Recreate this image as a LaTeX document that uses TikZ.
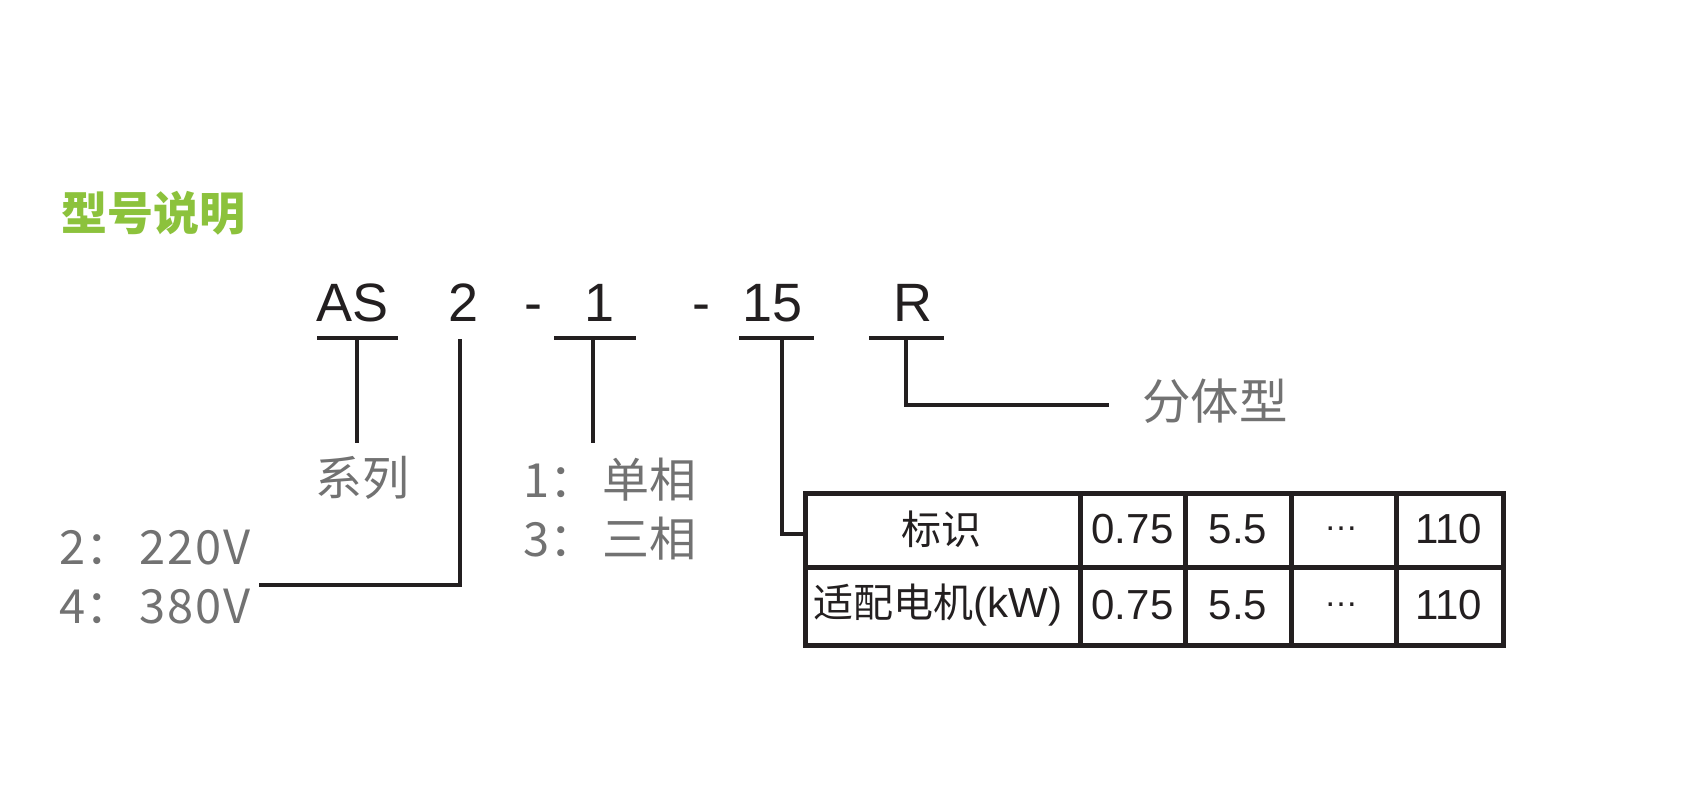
\documentclass[tikz,border=0pt]{standalone}
\usepackage{fontspec}
\setmainfont{Liberation Sans}
\newfontfamily\cjk{Noto Sans CJK SC}
\definecolor{ink}{HTML}{231F20}
\definecolor{lbl}{HTML}{727272}
\definecolor{ttl}{HTML}{8CC23C}
\newcommand{\widedigits}[1]{{\addfontfeature{LetterSpace=4}#1}}
\begin{document}
\begin{tikzpicture}[x=1pt,y=-1pt,
  code/.style={font=\fontsize{54}{60}\selectfont, text=ink, inner sep=0pt, anchor=base},
  lbltext/.style={font=\cjk\fontsize{47}{56}\selectfont, text=lbl, inner sep=0pt, anchor=west},
  wire/.style={draw=ink, line width=3.3pt},
  gridline/.style={draw=ink, line width=5pt},
  cellnum/.style={font=\fontsize{42}{48}\selectfont, text=ink, inner sep=0pt},
  cellcjk/.style={font=\cjk\fontsize{40}{48}\selectfont, text=ink, inner sep=0pt}]
\useasboundingbox[fill=white] (0,0) rectangle (1694,789);

% title
\node[font=\cjk\bfseries\fontsize{46}{54}\selectfont, text=ttl, anchor=west, inner sep=0pt] (title) at (61,213) {型号说明};

% code letters
\node[code] (cAS) at (352.5,321) {AS};
\node[code] (c2) at (463.5,321) {2};
\node[code] (d1) at (533,321) {-};
\node[code] (c1) at (600,321) {1};
\node[code] (d2) at (701.5,321) {-};
\node[code] (c15) at (772.5,321) {15};
\node[code] (cR) at (912.5,321) {R};

% labels
\node[lbltext] (lSeries) at (315,478) {系列};
\node[lbltext] (lPh1) at (523,480) {1：\hspace{6pt}单相};
\node[lbltext] (lPh3) at (523,539) {3：\hspace{6pt}三相};
\node[lbltext] (lV2) at (59,548) {2：\hspace{7pt}\widedigits{220V}};
\node[lbltext] (lV4) at (59,607) {4：\hspace{7pt}\widedigits{380V}};
\node[lbltext, font=\cjk\fontsize{48.5}{56}\selectfont] (lSplit) at (1142,401) {分体型};

% coordinates for connectors
\coordinate (asL) at (317,338); \coordinate (asR) at (398,338);
\coordinate (asM) at (357,338); \coordinate (asE) at (357,443);
\coordinate (v2T) at (460,339); \coordinate (v2E) at (259,585);
\coordinate (p1L) at (554,338); \coordinate (p1R) at (636,338);
\coordinate (p1M) at (593,338); \coordinate (p1E) at (593,443);
\coordinate (k15L) at (739,338); \coordinate (k15R) at (814,338);
\coordinate (k15M) at (782,338);
\coordinate (rL) at (869,338); \coordinate (rR) at (944,338);
\coordinate (rM) at (906,338); \coordinate (rE) at (1109,405);

% table
\node[gridline, minimum width=698pt, minimum height=152pt, anchor=north west, inner sep=0pt] (tbl) at (803,491) {};
\coordinate (tblIn) at (803,534);
\draw[gridline] (803,567) -- (1501,567);
\foreach \cx in {1080,1185,1291,1396} \draw[gridline] (\cx,491) -- (\cx,643);

\node[cellcjk] (h0) at (941.5,529) {标识};
\node[cellnum] (h1) at (1132.5,529) {0.75};
\node[cellnum] (h2) at (1238,529) {5.5};
\node[cellnum, font=\fontsize{34}{40}\selectfont] (h3) at (1341,529) {…};
\node[cellnum] (h4) at (1448.5,529) {110};
\node[cellnum] (m0) at (938,605) {{\cjk\fontsize{40}{48}\selectfont 适配电机}(kW)};
\node[cellnum] (m1) at (1132.5,605) {0.75};
\node[cellnum] (m2) at (1238,605) {5.5};
\node[cellnum, font=\fontsize{34}{40}\selectfont] (m3) at (1341,605) {…};
\node[cellnum] (m4) at (1448.5,605) {110};

% connectors
\draw[wire] (asL) -- (asR);
\draw[wire] (asM) -- (asE);
\draw[wire] (v2T) |- (v2E);
\draw[wire] (p1L) -- (p1R);
\draw[wire] (p1M) -- (p1E);
\draw[wire] (k15L) -- (k15R);
\draw[wire] (k15M) |- (tblIn);
\draw[wire] (rL) -- (rR);
\draw[wire] (rM) |- (rE);
\end{tikzpicture}
\end{document}
